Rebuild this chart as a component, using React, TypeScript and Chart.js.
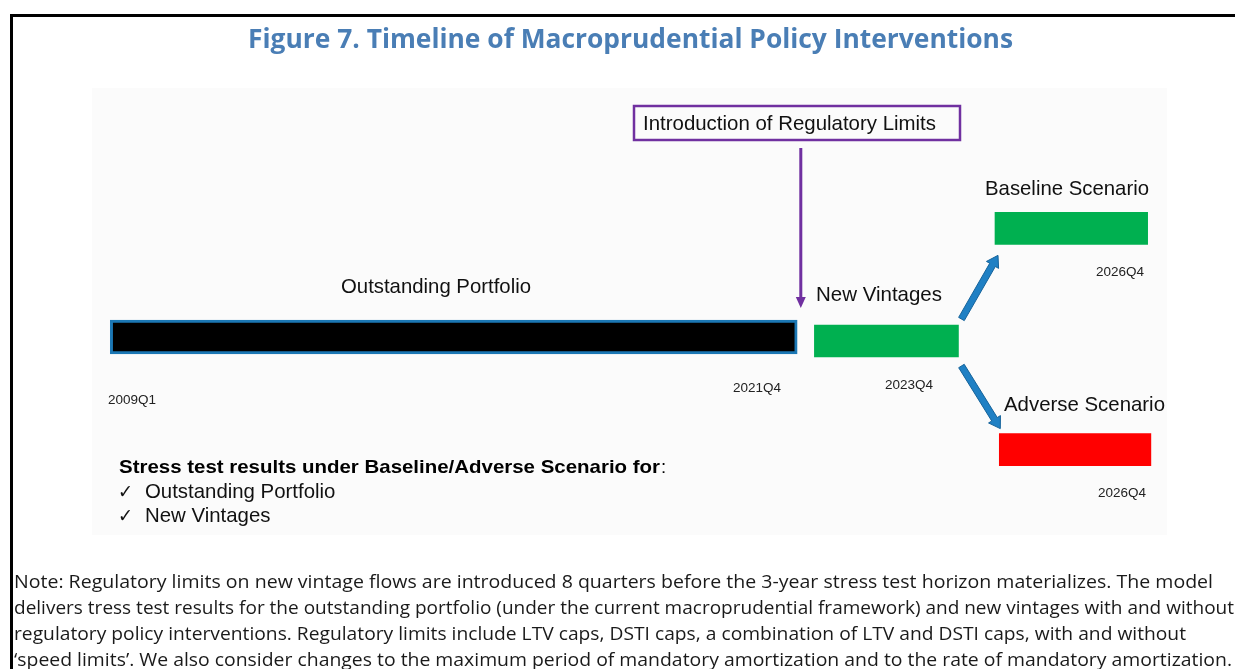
import { useEffect, useRef } from "react";
import { Chart, registerables } from "chart.js";

Chart.register(...registerables);

// ---- Data (schematic timeline units: x 0..100, y 0..100) ----
const segments = ["Outstanding Portfolio", "New Vintages", "Baseline Scenario", "Adverse Scenario"];
const segStart = [1.7, 67.2, 84.0, 84.4];
const segEnd = [65.6, 80.6, 98.2, 98.5];
const segRow = [44.3, 43.4, 68.6, 19.1];
const segColor = ["#000000", "#00B050", "#00B050", "#FF0000"];
const startTick = "2009Q1";
const endTicks = ["2021Q4", "2023Q4", "2026Q4", "2026Q4"];
const titleText = "Figure 7. Timeline of Macroprudential Policy Interventions";
const boxText = "Introduction of Regulatory Limits";
const stressHeader = "Stress test results under Baseline/Adverse Scenario for";
const checkItems = ["Outstanding Portfolio", "New Vintages"];
const noteLines = [
  "Note: Regulatory limits on new vintage flows are introduced 8 quarters before the 3-year stress test horizon materializes. The model",
  "delivers tress test results for the outstanding portfolio (under the current macroprudential framework) and new vintages with and without",
  "regulatory policy interventions. Regulatory limits include LTV caps, DSTI caps, a combination of LTV and DSTI caps, with and without",
  "\u2018speed limits\u2019. We also consider changes to the maximum period of mandatory amortization and to the rate of mandatory amortization.",
];

const ARIAL = '"Liberation Sans", Arial, "DejaVu Sans", sans-serif';
const SEGOE = '"Open Sans", "Noto Sans", sans-serif';

function fitText(
  ctx: CanvasRenderingContext2D,
  str: string,
  x: number,
  y: number,
  font: string,
  color: string,
  width?: number
) {
  ctx.save();
  ctx.font = font;
  ctx.fillStyle = color;
  ctx.textAlign = "left";
  ctx.textBaseline = "alphabetic";
  const w = ctx.measureText(str).width;
  ctx.translate(x, y);
  if (width && w > 0) ctx.scale(width / w, 1);
  ctx.fillText(str, 0, 0);
  ctx.restore();
}

function arrow(
  ctx: CanvasRenderingContext2D,
  x1: number,
  y1: number,
  x2: number,
  y2: number,
  shaft: number,
  headW: number,
  headL: number,
  color: string,
  stroke?: string
) {
  const dx = x2 - x1;
  const dy = y2 - y1;
  const len = Math.hypot(dx, dy);
  const ux = dx / len;
  const uy = dy / len;
  const nx = -uy;
  const ny = ux;
  const bx = x2 - ux * headL;
  const by = y2 - uy * headL;
  ctx.save();
  ctx.beginPath();
  ctx.moveTo(x1 + (nx * shaft) / 2, y1 + (ny * shaft) / 2);
  ctx.lineTo(bx + (nx * shaft) / 2, by + (ny * shaft) / 2);
  ctx.lineTo(bx + (nx * headW) / 2, by + (ny * headW) / 2);
  ctx.lineTo(x2, y2);
  ctx.lineTo(bx - (nx * headW) / 2, by - (ny * headW) / 2);
  ctx.lineTo(bx - (nx * shaft) / 2, by - (ny * shaft) / 2);
  ctx.lineTo(x1 - (nx * shaft) / 2, y1 - (ny * shaft) / 2);
  ctx.closePath();
  ctx.fillStyle = color;
  ctx.fill();
  if (stroke) {
    ctx.strokeStyle = stroke;
    ctx.lineWidth = 1;
    ctx.stroke();
  }
  ctx.restore();
}

const backgroundPlugin = {
  id: "bg",
  beforeDraw(chart: any) {
    const { ctx, chartArea, width, height } = chart;
    ctx.save();
    ctx.fillStyle = "#ffffff";
    ctx.fillRect(0, 0, width, height);
    ctx.fillStyle = "#fbfbfb";
    ctx.fillRect(chartArea.left, chartArea.top, chartArea.right - chartArea.left, chartArea.bottom - chartArea.top);
    // frame
    ctx.fillStyle = "#000000";
    ctx.fillRect(10, 14, width - 10, 3);
    ctx.fillRect(10, 14, 3, height - 14);
    ctx.restore();
  },
};

const annotationPlugin = {
  id: "annot",
  afterDatasetsDraw(chart: any) {
    const { ctx } = chart;
    const xs = chart.scales.x;
    const ys = chart.scales.y;
    const px = (v: number) => xs.getPixelForValue(v);
    const py = (v: number) => ys.getPixelForValue(v);

    // Title
    fitText(ctx, titleText, 248, 48, `bold 26px ${SEGOE}`, "#4A7EB5", 765);

    // Regulatory box
    ctx.save();
    ctx.strokeStyle = "#7030A0";
    ctx.lineWidth = 2.5;
    ctx.strokeRect(634, 106, 326, 34);
    ctx.restore();
    fitText(ctx, boxText, 643, 130, `20.4px ${ARIAL}`, "#111111", 293);

    // Purple arrow down to the end of outstanding portfolio
    const xIntro = (px(segEnd[0]) + px(segStart[1])) / 2 - 5;
    arrow(ctx, xIntro, 148, xIntro, py(segRow[0]) - 29, 3, 10, 11, "#7030A0");

    // Bar labels
    fitText(ctx, segments[0], 341, 293, `20.4px ${ARIAL}`, "#111111", 190);
    fitText(ctx, segments[1], 816, 301, `20.4px ${ARIAL}`, "#111111", 126);
    fitText(ctx, segments[2], 985, 195, `20.4px ${ARIAL}`, "#111111", 164);
    fitText(ctx, segments[3], 1004, 411, `20.4px ${ARIAL}`, "#111111", 161);

    // Date ticks
    const small = `13.5px ${ARIAL}`;
    fitText(ctx, startTick, 108, 404, small, "#222222", 48);
    fitText(ctx, endTicks[0], 733, 392, small, "#222222", 48);
    fitText(ctx, endTicks[1], 885, 389, small, "#222222", 48);
    fitText(ctx, endTicks[2], 1096, 276, small, "#222222", 48);
    fitText(ctx, endTicks[3], 1098, 497, small, "#222222", 48);

    // Blue arrows from new vintages to scenarios
    const nvEnd = px(segEnd[1]);
    arrow(ctx, nvEnd + 3, py(segRow[1]) - 22, px(segStart[2]) + 3, py(segRow[2]) + 27, 6.5, 14, 11, "#1F80C4", "#15639b");
    arrow(ctx, nvEnd + 3, py(segRow[1]) + 25, px(segStart[3]) + 1, py(segRow[3]) - 21, 6.5, 14, 11, "#1F80C4", "#15639b");

    // Stress test block
    fitText(ctx, stressHeader, 119, 473, `bold 18.5px ${ARIAL}`, "#000000", 541);
    fitText(ctx, ":", 661, 473, `18.5px ${ARIAL}`, "#000000");
    checkItems.forEach((item, i) => {
      fitText(ctx, "\u2713", 118, 498 + i * 24, `19px "DejaVu Sans", sans-serif`, "#111111", 15);
      fitText(ctx, item, 145, 498 + i * 24, `20.4px ${ARIAL}`, "#111111");
    });

    // Note
    const noteW = [1199, 1220, 1172, 1218];
    noteLines.forEach((line, i) => {
      fitText(ctx, line, 14, 588 + i * 26, `17.5px ${SEGOE}`, "#1a1a1a", noteW[i]);
    });
  },
};

export default function App() {
  const ref = useRef<HTMLCanvasElement | null>(null);

  useEffect(() => {
    if (!ref.current) return;
    const chart = new Chart(ref.current, {
      type: "bar",
      data: {
        datasets: [
          {
            label: segments[0],
            data: [{ x: [segStart[0], segEnd[0]], y: segRow[0] }] as any,
            backgroundColor: segColor[0],
            borderColor: "#1B77B4",
            borderWidth: 3,
            borderSkipped: false,
            barThickness: 34,
            grouped: false,
          },
          {
            label: "Scenarios",
            data: segments.slice(1).map((_, i) => ({ x: [segStart[i + 1], segEnd[i + 1]], y: segRow[i + 1] })) as any,
            backgroundColor: segColor.slice(1),
            borderWidth: 0,
            barThickness: 32,
            grouped: false,
          },
        ],
      },
      options: {
        indexAxis: "y",
        responsive: false,
        animation: false,
        events: [],
        layout: { padding: { left: 92, right: 68, top: 88, bottom: 134 } },
        scales: {
          x: { type: "linear", min: 0, max: 100, display: false, offset: false, grid: { display: false } },
          y: { type: "linear", min: 0, max: 100, display: false, offset: false, grid: { display: false } },
        },
        plugins: {
          legend: { display: false },
          tooltip: { enabled: false },
          title: { display: false },
        },
      },
      plugins: [backgroundPlugin, annotationPlugin],
    });
    return () => chart.destroy();
  }, []);

  return (
    <div style={{ position: "absolute", left: 0, top: 0, width: 1235, height: 669, overflow: "hidden" }}>
      <canvas ref={ref} width={1235} height={669} style={{ display: "block" }} />
    </div>
  );
}
